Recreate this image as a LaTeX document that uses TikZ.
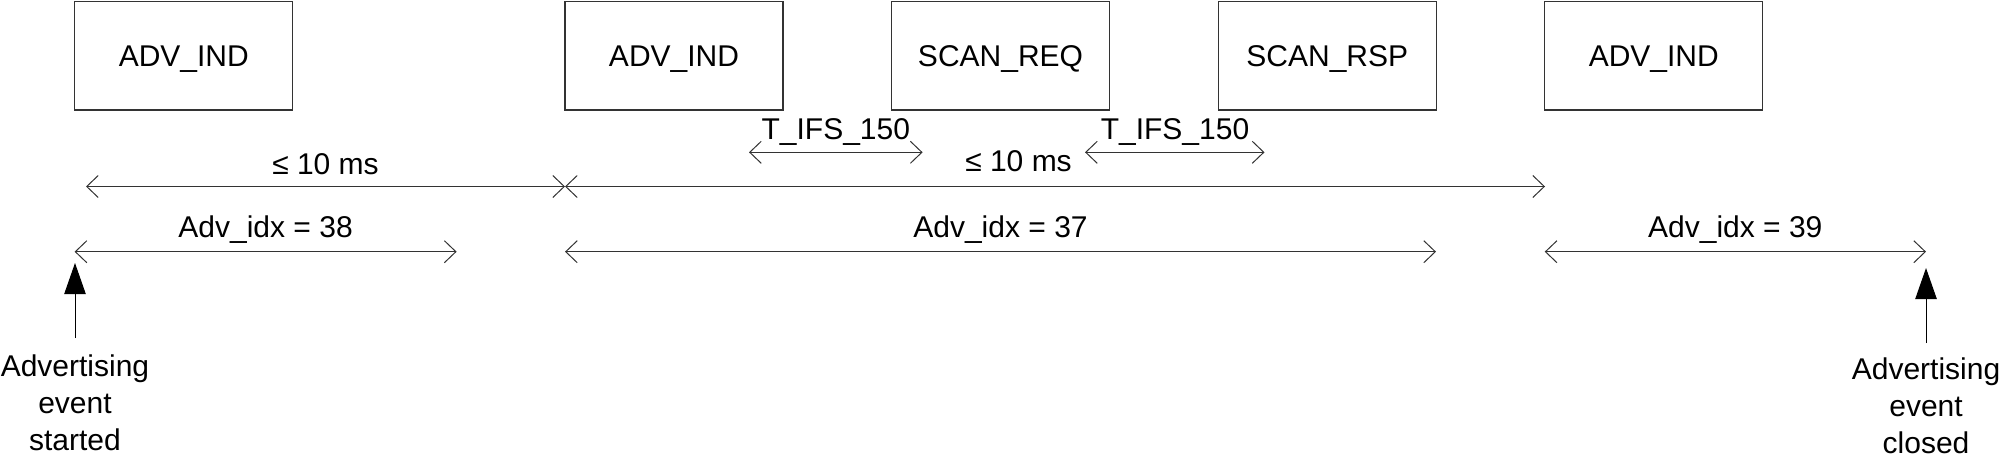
\documentclass[tikz,border=0pt]{standalone}
\usepackage{fontspec}
\setmainfont{Liberation Sans}
\usetikzlibrary{arrows.meta}
\begin{document}
\begin{tikzpicture}[x=0.5pt,y=-0.5pt,
  every node/.style={font=\fontsize{15pt}{18.35pt}\selectfont, inner sep=0pt},
  msgbox/.style={draw=black!80, line width=0.6pt, minimum width=109pt, minimum height=54.25pt, text height=10.74pt, text depth=0pt},
  dim/.style={draw=black!80, line width=0.5pt, {Straight Barb[length=5.75pt,width=11pt]}-{Straight Barb[length=5.75pt,width=11pt]}},
  evt/.style={draw=black, line width=0.5pt, -{Triangle[length=15.5pt,width=10.7pt]}},
  lbl/.style={anchor=base},
  evtlbl/.style={anchor=north, align=center}]
\useasboundingbox (0,0) rectangle (2000,456);

% message boxes
\node[msgbox] (b1) at (183.8,55.75) {ADV\_IND};
\node[msgbox] (b2) at (674,55.75) {ADV\_IND};
\node[msgbox] (b3) at (1000.5,55.75) {SCAN\_REQ};
\node[msgbox] (b4) at (1327.3,55.75) {SCAN\_RSP};
\node[msgbox] (b5) at (1653.75,55.75) {ADV\_IND};

% T_IFS_150 dimensions
\coordinate (t1l) at (749,152.3);
\coordinate (t1r) at (922.6,152.3);
\coordinate (t2l) at (1085,152.3);
\coordinate (t2r) at (1264.5,152.3);
\draw[dim] (t1l) -- (t1r);
\draw[dim] (t2l) -- (t2r);
\node[lbl] (tifs1) at (835.8,139.3) {T\_IFS\_150};
\node[lbl] (tifs2) at (1175,139.3) {T\_IFS\_150};

% 10 ms dimensions
\coordinate (d1l) at (86,186.5);
\coordinate (dmid) at (565,186.5);
\coordinate (d2r) at (1545,186.5);
\draw[dim] (d1l) -- (dmid);
\draw[dim] (dmid) -- (d2r);
\node[lbl] (ms1) at (325.5,174) {≤ 10 ms};
\node[lbl] (ms2) at (1018.5,171) {≤ 10 ms};

% Adv_idx dimensions
\coordinate (a38l) at (74.6,251.7);
\coordinate (a38r) at (456.6,251.7);
\coordinate (a37l) at (565,251.7);
\coordinate (a37r) at (1436,251.7);
\coordinate (a39l) at (1544.7,251.7);
\coordinate (a39r) at (1926,251.7);
\draw[dim] (a38l) -- (a38r);
\draw[dim] (a37l) -- (a37r);
\draw[dim] (a39l) -- (a39r);
\node[lbl] (i38) at (265.6,237.5) {Adv\_idx = 38};
\node[lbl] (i37) at (1000.5,237.5) {Adv\_idx = 37};
\node[lbl] (i39) at (1735.3,237.5) {Adv\_idx = 39};

% event markers
\coordinate (s0) at (75,338);
\coordinate (s1) at (75,263);
\coordinate (c0) at (1926,343);
\coordinate (c1) at (1926,268);
\draw[evt] (s0) -- (s1);
\draw[evt] (c0) -- (c1);
\node[evtlbl] (start) at (75,354.8) {Advertising\\event\\started};
\node[evtlbl] (close) at (1926,357.5) {Advertising\\event\\closed};
\end{tikzpicture}
\end{document}
